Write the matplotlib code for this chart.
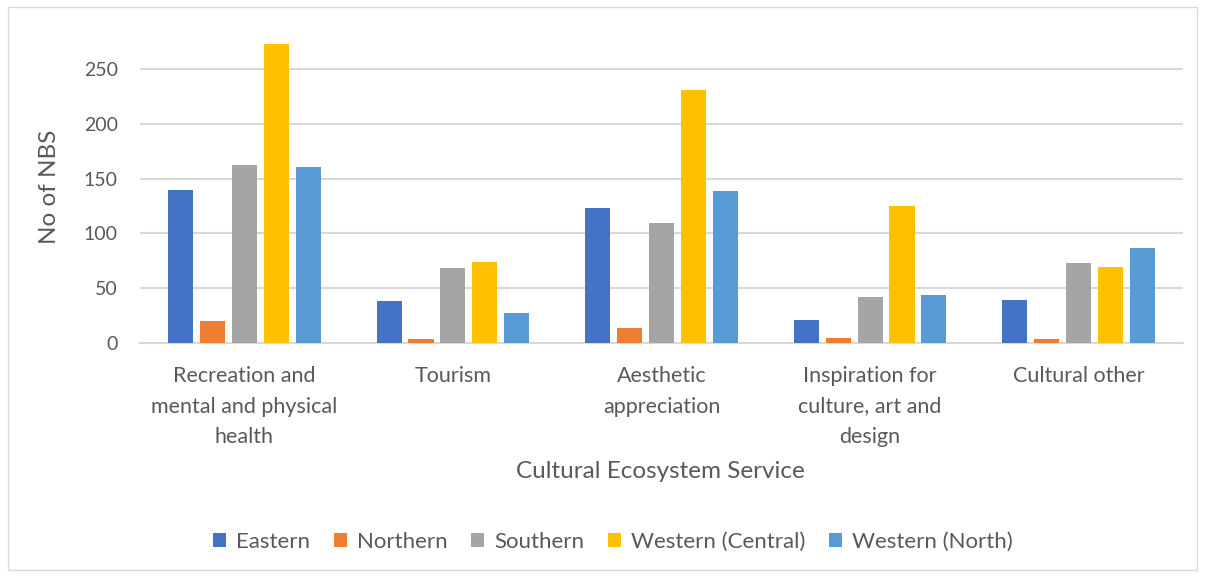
import matplotlib
matplotlib.use("Agg")
import matplotlib.pyplot as plt
import numpy as np
from matplotlib.patches import Rectangle

plt.rcParams['font.family'] = ['Lato', 'DejaVu Sans']

categories = ["Recreation and\nmental and physical\nhealth", "Tourism",
              "Aesthetic\nappreciation", "Inspiration for\nculture, art and\ndesign",
              "Cultural other"]
series_names = ["Eastern", "Northern", "Southern", "Western (Central)", "Western (North)"]
eastern = [140, 38, 123, 21, 39]
northern = [20, 3, 13, 4, 3]
southern = [162, 68, 109, 42, 73]
western_central = [273, 74, 231, 125, 69]
western_north = [161, 27, 139, 44, 87]
yticks = [0, 50, 100, 150, 200, 250]

colors = ["#4472C4", "#ED7D31", "#A5A5A5", "#FFC000", "#5B9BD5"]
grid_col = "#D9D9D9"
text_col = "#595959"

fig = plt.figure(figsize=(12.05, 5.77), dpi=100)
fig.patches.append(Rectangle((8 / 1205, 7 / 577), 1189 / 1205, 563 / 577,
                             transform=fig.transFigure, fill=False,
                             edgecolor=grid_col, linewidth=1))
ax = fig.add_axes([140 / 1205, 1 - 342.7 / 577, 1043 / 1205, (342.7 - 36.4) / 577])

x = np.arange(len(categories))
data = [eastern, northern, southern, western_central, western_north]
step = 0.153
width = 0.12
for i, (name, vals, c) in enumerate(zip(series_names, data, colors)):
    ax.bar(x + (i - 2) * step, vals, width=width, color=c, label=name, zorder=3)

ax.set_xlim(-0.5, len(categories) - 0.5)
ax.set_ylim(0, 280)
ax.set_yticks(yticks)
ax.set_xticks(x)
ax.set_xticklabels(categories, fontsize=15.5, color=text_col, linespacing=1.64)
ax.tick_params(axis='y', labelsize=14, colors=text_col, length=0, pad=16)
ax.tick_params(axis='x', length=0, pad=17)
ax.yaxis.grid(True, color=grid_col, linewidth=1.5, zorder=0)
for s in ["top", "right", "left"]:
    ax.spines[s].set_visible(False)
ax.spines["bottom"].set_color(grid_col)
ax.spines["bottom"].set_linewidth(1.5)

ax.set_ylabel("No of NBS", fontsize=17.5, color=text_col)
ax.yaxis.set_label_coords(60 / 1205, 1 - 187 / 577, transform=fig.transFigure)
fig.text(660 / 1205, 1 - 472 / 577, "Cultural Ecosystem Service", fontsize=17.5,
         color=text_col, ha="center", va="center")

leg = fig.legend(loc="center", bbox_to_anchor=(613 / 1205, 1 - 542 / 577), ncol=5,
                 frameon=False, fontsize=16, handlelength=0.6, handleheight=0.6,
                 handletextpad=0.45, columnspacing=1.05)
for t in leg.get_texts():
    t.set_color(text_col)

fig.savefig("out.png", dpi=100)
